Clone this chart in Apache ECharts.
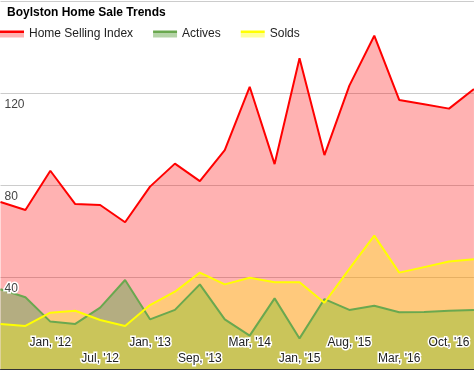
<!DOCTYPE html>
<html>
<head>
<meta charset="utf-8">
<script src="https://cdn.jsdelivr.net/npm/echarts@6/dist/echarts.min.js"></script>
<style>html,body{margin:0;padding:0;background:#fff}#c{width:474px;height:371px}</style>
</head>
<body>
<div id="c"></div>
<script>
var FONT = 'Arial, "Liberation Sans", sans-serif';
var title = "Boylston Home Sale Trends";
var categories = ["", "", "Jan, '12", "", "Jul, '12", "", "Jan, '13", "", "Sep, '13", "", "Mar, '14", "", "Jan, '15", "", "Aug, '15", "", "Mar, '16", "", "Oct, '16", ""];
var homeSellingIndex = [72.6, 69.1, 86.2, 71.7, 71.3, 63.8, 79.3, 89.3, 81.7, 95.2, 122.7, 89.1, 135.1, 93.0, 123.2, 144.9, 117.0, 115.1, 113.2, 121.7];
var actives = [34.7, 31.2, 20.6, 19.6, 26.7, 38.7, 21.6, 25.7, 36.8, 21.6, 14.5, 30.7, 13.3, 30.4, 25.7, 27.5, 24.7, 24.8, 25.3, 25.7];
var solds = [19.6, 18.7, 24.5, 25.3, 21.3, 18.7, 27.8, 33.6, 41.9, 36.8, 39.7, 37.7, 37.7, 28.8, 43.5, 58.0, 41.9, 44.3, 46.7, 47.7];
var yTicks = [0, 40, 80, 120, 160];

function legendFill(solid, light) {
  return {type: 'linear', x: 0, y: 0, x2: 0, y2: 1, colorStops: [
    {offset: 0, color: solid}, {offset: 0.36, color: solid},
    {offset: 0.36, color: light}, {offset: 1, color: light}]};
}
function mkSeries(name, data, color, fill, legendLight) {
  return {
    name: name, type: 'line', data: data, showSymbol: false, symbol: 'none',
    lineStyle: {color: color, width: 2},
    itemStyle: {color: legendFill(color, legendLight)},
    areaStyle: {color: fill, opacity: 1},
    emphasis: {disabled: true}
  };
}
var labelCommon = {fontFamily: FONT, fontSize: 12, textBorderColor: '#fff', textBorderWidth: 3};
var chart = echarts.init(document.getElementById('c'), null, {renderer: 'canvas'});
chart.setOption({
  animation: false,
  backgroundColor: '#fff',
  textStyle: {fontFamily: FONT},
  title: {text: title, left: 7, top: 7, padding: 0,
    textStyle: {fontFamily: FONT, fontSize: 12, fontWeight: 'bold', color: '#000'}},
  legend: {
    left: 0, top: 28, padding: 0, itemWidth: 24, itemHeight: 7, itemGap: 20,
    icon: 'rect',
    textStyle: {fontFamily: FONT, fontSize: 12, color: '#222'},
    data: ['Home Selling Index', 'Actives', 'Solds']
  },
  grid: {left: 0, right: 0, top: 1, bottom: 2, containLabel: false},
  xAxis: {
    type: 'category', data: categories, boundaryGap: false, z: 10,
    axisLine: {lineStyle: {color: '#333', width: 1}},
    axisTick: {show: false},
    splitLine: {show: false},
    axisLabel: {
      inside: true, margin: 4, color: '#222', fontFamily: FONT, fontSize: 12,
      textBorderColor: '#fff', textBorderWidth: 3,
      interval: function (i, v) { return v !== ''; },
      formatter: function (v, i) {
        return (i % 4 === 2) ? '{hi|' + v + '}' : '{lo|' + v + '}';
      },
      rich: {
        hi: Object.assign({color: '#222', padding: [0, 0, 16, 0]}, labelCommon),
        lo: Object.assign({color: '#222'}, labelCommon)
      }
    }
  },
  yAxis: [{
    type: 'value', min: yTicks[0], max: yTicks[yTicks.length - 1], interval: 40,
    axisLine: {show: false}, axisTick: {show: false},
    splitLine: {lineStyle: {color: '#ccc', width: 1}},
    axisLabel: {show: false}
  }, {
    type: 'value', position: 'left', z: 10,
    min: yTicks[0], max: yTicks[yTicks.length - 1], interval: 40,
    axisLine: {show: false}, axisTick: {show: false}, splitLine: {show: false},
    axisLabel: Object.assign({
      inside: true, margin: 4, color: '#444',
      verticalAlign: 'top', lineHeight: 12, padding: [6, 0, 0, 0],
      showMinLabel: false, showMaxLabel: false
    }, labelCommon)
  }],
  series: [
    mkSeries('Home Selling Index', homeSellingIndex, '#ff0000', 'rgba(255,0,0,0.3)', 'rgba(255,0,0,0.3)'),
    mkSeries('Actives', actives, '#6aa84f', 'rgba(106,168,79,0.5)', 'rgba(106,168,79,0.5)'),
    mkSeries('Solds', solds, '#ffff00', 'rgba(255,255,0,0.3)', 'rgba(255,255,0,0.4)')
  ]
});
</script>
</body>
</html>
